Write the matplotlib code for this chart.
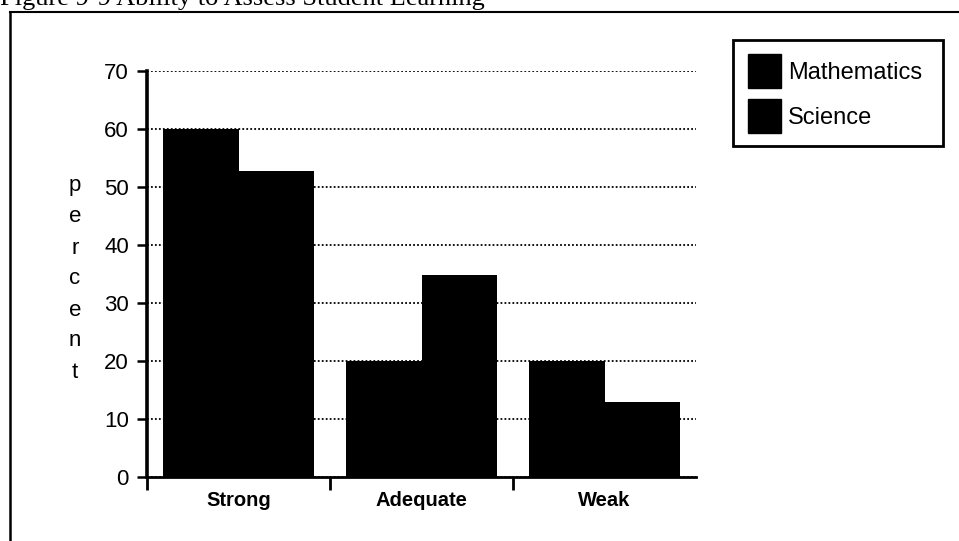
import numpy as np
import matplotlib
matplotlib.use("Agg")
import matplotlib.pyplot as plt
from matplotlib.patches import Rectangle
from matplotlib.lines import Line2D

# data
categories = ["Strong", "Adequate", "Weak"]
mathematics = [60, 20, 20]
science = [52.7, 34.8, 12.9]
series_names = ["Mathematics", "Science"]
y_ticks = [0, 10, 20, 30, 40, 50, 60, 70]
y_label = "percent"
title = "Figure 9-9 Ability to Assess Student Learning"

plt.rcParams['font.family'] = ['Liberation Sans', 'DejaVu Sans']

W, H = 959, 541
fig = plt.figure(figsize=(W / 100, H / 100), dpi=100)

def fx(px):
    return px / W

def fy(py):
    return 1 - py / H

# outer frame (left + top) and the title, cut off at the top as in the scan
fig.add_artist(Line2D([fx(10), fx(10)], [fy(12), 0], color='black', lw=1.8,
                      transform=fig.transFigure))
fig.add_artist(Line2D([fx(10), 1], [fy(12), fy(12)], color='black', lw=1.5,
                      transform=fig.transFigure))
fig.text(fx(0), fy(5), title, family='Liberation Serif', fontsize=19,
         va='baseline', ha='left')

# plot area
left, right, top, bottom = 147, 696, 71, 477
ax = fig.add_axes([fx(left), fy(bottom), fx(right - left), (bottom - top) / H])

x = np.arange(len(categories))
w = 0.41
ax.bar(x - w / 2, mathematics, width=w, color='black', zorder=3)
ax.bar(x + w / 2, science, width=w, color='black', zorder=3)

ax.set_xlim(-0.5, 2.5)
ax.set_ylim(0, 70)
ax.set_yticks(y_ticks)
ax.yaxis.grid(True, linestyle=(0, (1, 1.2)), color='black', lw=1.3, zorder=0)
for spine in ['top', 'right']:
    ax.spines[spine].set_visible(False)
ax.spines['left'].set_linewidth(2.6)
ax.spines['bottom'].set_linewidth(2.0)

ax.set_xticks(x)
ax.set_xticklabels(categories, fontsize=14.5, fontweight='bold')
ax.tick_params(axis='x', which='major', length=0, pad=10)
ax.set_xticks([-0.5, 0.5, 1.5], minor=True)
ax.tick_params(axis='x', which='minor', length=9, width=2.0, direction='out')
ax.tick_params(axis='y', length=7, width=1.8, labelsize=16, pad=6)

# stacked vertical y label
for i, ch in enumerate(y_label):
    fig.text(fx(75), fy(186 + 31 * i), ch, fontsize=16, ha='center', va='center')

# legend box
fig.add_artist(Rectangle((fx(733), fy(146)), fx(943 - 733), (146 - 40) / H,
                         fill=False, lw=2.0, edgecolor='black',
                         transform=fig.transFigure))
for i, name in enumerate(series_names):
    cy = 71 + 45 * i
    fig.add_artist(Rectangle((fx(748), fy(cy + 17)), fx(33), 34 / H,
                             color='black', transform=fig.transFigure))
    fig.text(fx(788), fy(cy + 2), name, fontsize=17, ha='left', va='center')

fig.savefig("out.png", dpi=100)
